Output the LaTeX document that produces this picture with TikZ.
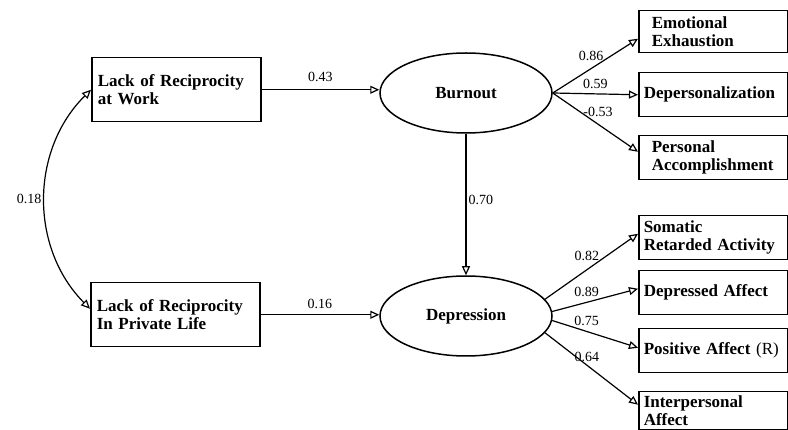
\documentclass[tikz,border=0pt]{standalone}
\usepackage{fontspec}
\setmainfont{Liberation Serif}
\usetikzlibrary{positioning,arrows.meta,shapes.geometric}

\tikzset{
  causebox/.style={draw,line width=1.5pt,anchor=north west,
    minimum width=169pt,minimum height=64pt,text width=157pt,
    inner xsep=6pt,inner ysep=3pt,align=left,
    font=\fontsize{17}{18}\selectfont\bfseries},
  indbox/.style={draw,line width=1.5pt,anchor=north west,
    minimum width=149pt,minimum height=44pt,text width=139pt,
    inner xsep=5pt,inner ysep=2pt,align=left,
    font=\fontsize{17}{18}\selectfont\bfseries},
  latent/.style={draw,ellipse,line width=1.5pt,minimum width=172pt,
    minimum height=80pt,inner sep=0pt,
    font=\fontsize{17}{18}\selectfont\bfseries},
  effect/.style={line width=1.2pt,-{Triangle[open,length=9pt,width=8pt]}},
  coef/.style={font=\fontsize{14}{15}\selectfont,inner sep=2pt}
}

\begin{document}
\begin{tikzpicture}[x=1pt,y=-1pt]
  \useasboundingbox (0,0) rectangle (788,430);
  \clip (0,0) rectangle (788,430);

  % causes
  \node[causebox] (work) at (91,57) {Lack of Reciprocity\\at Work};
  \node[causebox] (private) at (90,282) {Lack of Reciprocity\\In Private Life};

  % latent variables
  \node[latent] (burnout) at (466,93) {Burnout};
  \node[latent] (depression) at (466,316) {Depression};

  % indicators
  \node[indbox,minimum height=42pt] (exhaust) at (638,10)
    {\hspace*{8pt}Emotional\\\hspace*{8pt}Exhaustion};
  \node[indbox] (deperson) at (638,72) {Depersonalization};
  \node[indbox] (accompl) at (638,135)
    {\hspace*{8pt}Personal\\\hspace*{8pt}Accomplishment};
  \node[indbox] (somatic) at (638,215) {Somatic\\Retarded Activity};
  \node[indbox] (depaff) at (638,270) {Depressed Affect};
  \node[indbox] (posaff) at (638,328) {Positive Affect {\mdseries(R)}};
  \node[indbox,minimum height=38pt] (interp) at (638,391) {Interpersonal\\Affect};

  % structural paths
  \draw[effect] (work.east) -- (work.east -| burnout.west)
    node[coef,above=5pt,midway] {0.43};
  \draw[effect] (private.east) -- (private.east -| depression.west)
    node[coef,above=3pt,midway] {0.16};
  \draw[effect] (burnout.south) -- (depression.north)
    node[coef,right,pos=0.47] {0.70};
  \draw[{Triangle[open,length=9pt,width=8pt]}-{Triangle[open,length=9pt,width=8pt]},line width=1.2pt]
    (work.west) to[bend right=45] node[coef,left=1pt] {0.18}
    ([yshift=6pt]private.west);

  % loadings
  \draw[effect] (burnout.east) -- ([yshift=-7pt]exhaust.west)
    node[coef,above=5pt,pos=0.45] {0.86};
  \draw[effect] (burnout.east) -- (deperson.west)
    node[coef,above=3pt,pos=0.5] {0.59};
  \draw[effect] (burnout.east) -- ([yshift=6pt]accompl.west)
    node[coef,above=5pt,pos=0.53] {-0.53};
  \draw[effect] (depression.12) -- ([yshift=4pt]somatic.west)
    node[coef,above=6pt,pos=0.45] {0.82};
  \draw[effect] (depression.3) -- ([yshift=4pt]depaff.west)
    node[coef,above=3pt,pos=0.4] {0.89};
  \draw[effect] (depression.-3) -- ([yshift=3pt]posaff.west)
    node[coef,above=3pt,pos=0.4] {0.75};
  \draw[effect] (depression.-12) -- ([yshift=6pt]interp.west)
    node[coef,above=1pt,pos=0.45] {0.64};
\end{tikzpicture}
\end{document}
